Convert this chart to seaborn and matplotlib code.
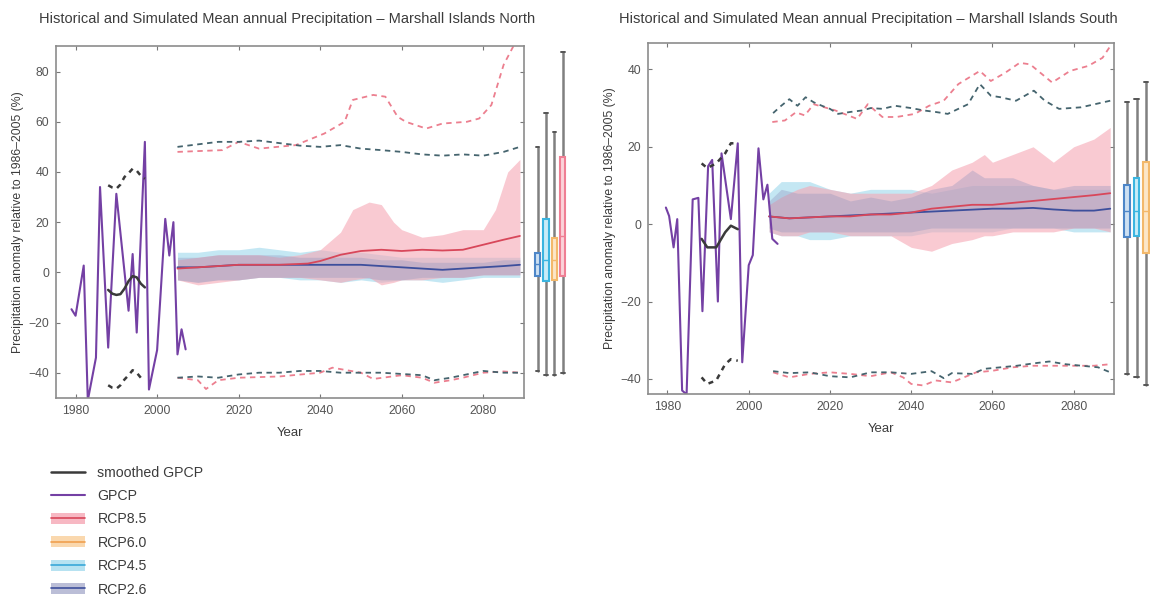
import numpy as np
import pandas as pd
import matplotlib
matplotlib.use("Agg")
import matplotlib.pyplot as plt
from matplotlib.lines import Line2D
from matplotlib.patches import Patch
import seaborn as sns

# ---------------------------------------------------------------- North data
north_gpcp_years = [1979, 1980, 1982, 1983, 1985, 1986, 1988, 1990, 1993, 1994,
                    1995, 1997, 1998, 2000, 2002, 2003, 2004, 2005, 2006, 2007]
north_gpcp = [-14.7, -17.3, 2.7, -51, -34, 34, -30, 31.3, -15.3, 7.3,
              -24, 52, -46.7, -31, 21.3, 6.7, 20, -32.7, -22.7, -30.7]
north_smooth_years = [1988, 1989, 1990, 1991, 1992, 1993, 1994, 1995, 1996, 1997]
north_smooth = [-7, -8.5, -9, -8.7, -6.5, -3.5, -1.5, -2, -4.5, -6]
north_smooth_hi = [34.7, 33.8, 33.3, 35, 38, 39.5, 41.3, 40.5, 38.5, 37.3]
north_smooth_lo = [-45, -46, -46.4, -45, -42.7, -41, -39, -40, -42, -42.7]

north_up85_years = [2005, 2016, 2020, 2025, 2034, 2041, 2046, 2048, 2053, 2056, 2059,
                    2061, 2066, 2070, 2076, 2079, 2082, 2085, 2088, 2090]
north_up85 = [48, 48.7, 52, 49.3, 50.7, 55.3, 60, 68.7, 70.7, 70, 62,
              60, 57.3, 59.3, 60, 61.3, 66.7, 82.7, 92, 95]
north_up26_years = [2005, 2010, 2015, 2020, 2025, 2030, 2035, 2040, 2045, 2050,
                    2055, 2060, 2065, 2070, 2075, 2080, 2085, 2089]
north_up26 = [50, 51, 52, 52, 52.5, 51.5, 50.5, 50, 50.7, 49.3,
              48.7, 48, 47, 46.5, 47, 46.5, 48, 50]
north_lo85_years = [2005, 2010, 2012, 2015, 2020, 2030, 2040, 2043, 2050, 2053,
                    2060, 2065, 2068, 2072, 2075, 2080, 2085, 2089]
north_lo85 = [-42, -43, -46.5, -43, -42, -41.5, -40, -38, -40, -42.5,
              -41, -42, -44, -43, -42, -40, -39.5, -40]
north_lo26_years = [2005, 2010, 2015, 2020, 2025, 2030, 2035, 2040, 2045, 2050,
                    2055, 2060, 2065, 2068, 2072, 2075, 2080, 2085, 2089]
north_lo26 = [-42, -41.5, -42, -40.7, -40, -40, -39.3, -39.3, -40, -40,
              -40, -40.5, -41, -43, -42, -41, -39.3, -40, -40]

north_band85_years = [2005, 2010, 2015, 2020, 2025, 2030, 2035, 2040, 2045, 2048, 2052,
                      2055, 2058, 2060, 2065, 2070, 2075, 2080, 2083, 2086, 2089]
north_band85_hi = [5, 6, 7, 7, 7, 6, 7, 9, 16, 25, 28, 27, 20, 17, 14, 15, 17, 17, 25, 40, 45]
north_band85_lo = [-3, -5, -4, -3, -2, -2, -2, -3, -4, -3, -2, -5, -4, -3, -3, -2, -2, -1, -1, -1, -1]
north_band45_years = [2005, 2010, 2015, 2020, 2025, 2030, 2035, 2040, 2045, 2050,
                      2055, 2060, 2065, 2070, 2075, 2080, 2085, 2089]
north_band45_hi = [8, 8, 9, 9, 10, 9, 8, 9, 8, 8, 7, 6, 6, 6, 6, 6, 6, 6]
north_band45_lo = [-3, -4, -3, -3, -2, -2, -3, -3, -4, -3, -4, -3, -3, -4, -3, -2, -2, -2]
north_band26_hi = [6, 6, 7, 7, 7, 7, 6, 6, 6, 6, 5, 5, 4, 4, 4, 4, 5, 5]
north_band26_lo = [-3, -4, -3, -3, -2, -2, -2, -2, -2, -2, -3, -3, -2, -2, -2, -1, -1, -1]
north_med85_years = [2005, 2010, 2020, 2030, 2037, 2040, 2045, 2050, 2055, 2060,
                     2065, 2070, 2075, 2080, 2085, 2089]
north_med85 = [1.5, 2, 3, 3, 3.5, 4.5, 7, 8.5, 9, 8.5, 9, 8.7, 9, 11, 13, 14.5]
north_med26_years = [2005, 2010, 2020, 2030, 2040, 2050, 2055, 2060, 2065, 2070,
                     2075, 2080, 2085, 2089]
north_med26 = [2, 2, 3, 3, 3, 3, 2.5, 2, 1.5, 1, 1.5, 2, 2.5, 3]

# ---------------------------------------------------------------- South data
south_gpcp_years = [1979.6, 1980.4, 1981.5, 1982.4, 1983.6, 1984.7, 1986.2, 1987.6,
                    1988.6, 1990, 1991, 1992.4, 1993.3, 1995.6, 1997.3, 1998.4,
                    2000, 2001, 2002.4, 2003.6, 2004.6, 2005.8, 2007.1]
south_gpcp = [4.3, 2.1, -6, 1.3, -43, -44, 6.4, 6.8,
              -22.5, 15, 16.6, -20, 18.3, 1.3, 20.9, -35.7,
              -10.6, -8, 19.6, 6.4, 10.2, -3.8, -5.1]
south_smooth_years = [1988.4, 1989.8, 1992, 1994.2, 1995.6, 1997.3]
south_smooth = [-3.8, -6, -6, -2.1, -0.4, -1.3]
south_smooth_hi = [15.7, 14.5, 15.7, 18.3, 20.9, 20.9]
south_smooth_lo = [-39.6, -41.3, -40.4, -36.2, -34.9, -35.3]

south_up85_years = [2005.8, 2008.9, 2011.6, 2013.8, 2016, 2021.3, 2026.7, 2029.3, 2032.9,
                    2036.4, 2040.9, 2044.4, 2048, 2051.6, 2056.9, 2059.6, 2063.1,
                    2066.7, 2069.3, 2074.7, 2079.1, 2083.6, 2087.1, 2089]
south_up85 = [26.4, 26.8, 28.9, 28.1, 31, 29.4, 27.2, 31, 27.7,
              27.7, 28.5, 30.6, 31.9, 36.2, 39.6, 37, 39.1,
              41.7, 41.3, 36.6, 39.6, 40.9, 43, 46]
south_up26_years = [2006, 2008, 2010, 2012, 2014, 2016, 2018, 2020, 2022, 2025, 2028,
                    2030, 2033, 2036, 2040, 2043, 2046, 2049, 2052, 2054, 2056.9,
                    2059.6, 2062, 2065.8, 2070.2, 2072.9, 2076.4, 2081.8, 2089]
south_up26 = [28.7, 30.6, 32.3, 30.6, 32.8, 31.5, 30.6, 29.8, 28.5, 29, 29.4,
              30, 29.8, 30.6, 30, 29.4, 29, 28.5, 30, 31, 36.2,
              33.2, 32.8, 31.9, 34.5, 31.9, 29.8, 30.2, 31.9]
south_lo85_years = [2006, 2010, 2015, 2020, 2025, 2030, 2035, 2038, 2040, 2043, 2046,
                    2050, 2053, 2056, 2060, 2065, 2070, 2075, 2080, 2085, 2089]
south_lo85 = [-38.3, -39.6, -38.7, -38.3, -38.7, -39.3, -38.3, -39.6, -41.3, -41.7, -40.4,
              -40.9, -39.6, -38.3, -37.9, -37, -36.6, -36.6, -36.6, -36.6, -36.2]
south_lo26_years = [2006, 2010, 2015, 2020, 2025, 2030, 2035, 2040, 2045, 2048, 2050,
                    2055, 2058, 2062, 2066, 2070, 2074, 2078, 2082, 2086, 2089]
south_lo26 = [-38, -38.5, -38.3, -39.3, -39.6, -38.3, -38.3, -38.7, -38, -39.8, -38.5,
              -38.7, -37.4, -37, -36.6, -36, -35.5, -36.2, -36.6, -37, -38.3]

south_band_years = [2005, 2008, 2012, 2015, 2020, 2025, 2030, 2035, 2040, 2045, 2050,
                    2055, 2058, 2060, 2065, 2070, 2075, 2080, 2085, 2089]
south_band85_hi = [5, 7, 9, 10, 9, 8, 8, 8, 8, 10, 14, 16, 18, 16, 18, 20, 16, 20, 22, 25]
south_band85_lo = [-2, -3, -3, -2, -2, -3, -3, -3, -6, -7, -5, -4, -3, -3, -2, -2, -2, -1, -1, -2]
south_band45_hi = [8, 11, 11, 11, 9, 8, 9, 9, 9, 8, 9, 10, 10, 10, 10, 10, 9, 9, 9, 9]
south_band45_lo = [-2, -3, -3, -4, -4, -3, -3, -3, -3, -2, -2, -2, -2, -2, -1, -1, -1, -2, -2, -2]
south_band26_hi = [6, 9, 8, 8, 8, 6, 7, 6, 7, 9, 10, 14, 12, 12, 12, 10, 9, 10, 10, 10]
south_band26_lo = [-1, -2, -2, -2, -2, -2, -2, -2, -2, -1, -1, -1, -1, -1, -1, -1, -1, -1, -1, -1]
south_med85_years = [2005, 2010, 2020, 2025, 2030, 2035, 2040, 2045, 2050, 2055,
                     2060, 2065, 2070, 2075, 2080, 2085, 2089]
south_med85 = [2, 1.5, 2, 2, 2.5, 2.5, 3, 4, 4.5, 5, 5, 5.5, 6, 6.5, 7, 7.5, 8]
south_med26_years = [2005, 2010, 2020, 2030, 2040, 2050, 2060, 2065, 2070, 2075,
                     2080, 2085, 2089]
south_med26 = [2, 1.5, 2, 2.5, 3, 3.5, 4, 4, 4.2, 3.8, 3.5, 3.5, 4]

# ------------------------------------------------- end-of-century range boxes
scenarios = ["RCP2.6", "RCP4.5", "RCP6.0", "RCP8.5"]
north_box_low = [-39.5, -41, -41, -40]
north_box_q1 = [-1.6, -3.3, -2.9, -1.6]
north_box_med = [3.3, 5, 5, 14.4]
north_box_q3 = [7.6, 21.3, 13.6, 46]
north_box_high = [50, 63.5, 56, 88]
south_box_low = [-38.8, -39.6, -41.6, -42]
south_box_q1 = [-3.4, -3.0, -7.5, -4]
south_box_med = [3.3, 3.3, 3.3, 8]
south_box_q3 = [10.2, 12.0, 16.0, 25]
south_box_high = [31.5, 32.3, 36.8, 46]

# ------------------------------------------------------------------ styling
sns.set_theme(style="white")
plt.rcParams["font.family"] = ["Liberation Sans", "DejaVu Sans"]

PURPLE = "#7440a4"
SMOOTH = "#3a3a3a"
RED = "#d8475a"
DASH_PINK = "#ec7f8f"
DASH_DARK = "#45646e"
NAVY = "#3d4f9c"
C85 = "#f6a7b5"
C60 = "#f9cf9a"
C45 = "#a5dbee"
C26 = "#8f93bd"
BOX_EDGE = {"RCP2.6": "#4d86c8", "RCP4.5": "#3bb5e0", "RCP6.0": "#f3b86a", "RCP8.5": "#ef7f94"}
BOX_FILL = {"RCP2.6": "#cde0f2", "RCP4.5": "#c9ecf8", "RCP6.0": "#fce6c8", "RCP8.5": "#fbd3da"}
SPINE = "#8c8c8c"
TXT = "#3c3c3c"

W, H = 1150, 597
fig = plt.figure(figsize=(W / 100, H / 100), dpi=100)


def px_axes(x0, y0, x1, y1):
    return fig.add_axes([x0 / W, 1 - y1 / H, (x1 - x0) / W, (y1 - y0) / H])


def line(ax, xs, ys, color, lw=1.3, dashed=False, dash=(3, 2.5)):
    df = pd.DataFrame({"year": xs, "value": ys})
    sns.lineplot(data=df, x="year", y="value", ax=ax, color=color, lw=lw,
                 sort=False, estimator=None, legend=False)
    if dashed:
        ax.lines[-1].set_dashes(dash)


def panel(ax, d, ylim, yticks, title, title_x):
    ax.fill_between(d["b45x"], d["b45lo"], d["b45hi"], color=C45, alpha=0.65, lw=0)
    ax.fill_between(d["b85x"], d["b85lo"], d["b85hi"], color=C85, alpha=0.6, lw=0)
    ax.fill_between(d["b45x"], d["b26lo"], d["b26hi"], color=C26, alpha=0.35, lw=0)
    line(ax, d["up85x"], d["up85"], DASH_PINK, 1.3, True)
    line(ax, d["up26x"], d["up26"], DASH_DARK, 1.3, True)
    line(ax, d["lo85x"], d["lo85"], DASH_PINK, 1.3, True)
    line(ax, d["lo26x"], d["lo26"], DASH_DARK, 1.3, True)
    line(ax, d["m26x"], d["m26"], NAVY, 1.3)
    line(ax, d["m85x"], d["m85"], RED, 1.3)
    line(ax, d["gx"], d["g"], PURPLE, 1.5)
    line(ax, d["sx"], d["shi"], SMOOTH, 1.8, True, (2, 2))
    line(ax, d["sx"], d["slo"], SMOOTH, 1.8, True, (2, 2))
    line(ax, d["sx"], d["s"], SMOOTH, 1.8)

    ax.set_xlim(1975.2, 2090)
    ax.set_ylim(*ylim)
    ax.set_xticks([1980, 2000, 2020, 2040, 2060, 2080])
    ax.set_yticks(yticks)
    ax.tick_params(direction="in", length=3, width=0.8, color="#777777",
                   labelsize=8.8, labelcolor="#555555", top=True, right=True,
                   bottom=True, left=True, pad=5)
    for s in ax.spines.values():
        s.set_color(SPINE)
        s.set_linewidth(1.2)
    ax.set_xlabel("Year", fontsize=9.5, color=TXT, labelpad=7)
    ax.set_ylabel("Precipitation anomaly relative to 1986\u20132005 (%)",
                  fontsize=8.8, color=TXT, labelpad=3)
    fig.text(title_x / W, 1 - 19 / H, title, ha="center", va="center",
             fontsize=10.5, color=TXT)


def boxes(ax, low, q1, med, q3, high, ylim):
    stats = []
    for i, name in enumerate(scenarios):
        stats.append(dict(label=name, whislo=low[i], q1=q1[i], med=med[i],
                          q3=q3[i], whishi=high[i]))
    bp = ax.bxp(stats, positions=[0, 1, 2, 3], widths=0.6, showfliers=False,
                patch_artist=True, manage_ticks=False)
    for i, name in enumerate(scenarios):
        bp["boxes"][i].set(facecolor=BOX_FILL[name], edgecolor=BOX_EDGE[name], lw=1.5, zorder=3)
        bp["medians"][i].set(color=BOX_EDGE[name], lw=1.0, zorder=4)
    for w in bp["whiskers"]:
        w.set(color="#808080", lw=1.8, zorder=2)
    for c in bp["caps"]:
        xm = np.mean(c.get_xdata())
        c.set(color="#555555", lw=1.4, xdata=[xm - 0.22, xm + 0.22])
    ax.set_xlim(-0.55, 3.5)
    ax.set_ylim(*ylim)
    ax.axis("off")


north = dict(gx=north_gpcp_years, g=north_gpcp, sx=north_smooth_years, s=north_smooth,
             shi=north_smooth_hi, slo=north_smooth_lo,
             up85x=north_up85_years, up85=north_up85, up26x=north_up26_years, up26=north_up26,
             lo85x=north_lo85_years, lo85=north_lo85, lo26x=north_lo26_years, lo26=north_lo26,
             b85x=north_band85_years, b85hi=north_band85_hi, b85lo=north_band85_lo,
             b45x=north_band45_years, b45hi=north_band45_hi, b45lo=north_band45_lo,
             b26hi=north_band26_hi, b26lo=north_band26_lo,
             m85x=north_med85_years, m85=north_med85, m26x=north_med26_years, m26=north_med26)
south = dict(gx=south_gpcp_years, g=south_gpcp, sx=south_smooth_years, s=south_smooth,
             shi=south_smooth_hi, slo=south_smooth_lo,
             up85x=south_up85_years, up85=south_up85, up26x=south_up26_years, up26=south_up26,
             lo85x=south_lo85_years, lo85=south_lo85, lo26x=south_lo26_years, lo26=south_lo26,
             b85x=south_band_years, b85hi=south_band85_hi, b85lo=south_band85_lo,
             b45x=south_band_years, b45hi=south_band45_hi, b45lo=south_band45_lo,
             b26hi=south_band26_hi, b26lo=south_band26_lo,
             m85x=south_med85_years, m85=south_med85, m26x=south_med26_years, m26=south_med26)

NORTH_YLIM = (-50.2, 90.2)
SOUTH_YLIM = (-43.9, 46.9)

ax_n = px_axes(56, 46, 524, 398.3)
panel(ax_n, north, NORTH_YLIM, [-40, -20, 0, 20, 40, 60, 80],
      "Historical and Simulated Mean annual Precipitation \u2013 Marshall Islands North", 287)
ax_s = px_axes(648, 42.7, 1114.3, 394)
panel(ax_s, south, SOUTH_YLIM, [-40, -20, 0, 20, 40],
      "Historical and Simulated Mean annual Precipitation \u2013 Marshall Islands South", 868)

box_n = px_axes(533, 46, 567, 398.3)
boxes(box_n, north_box_low, north_box_q1, north_box_med, north_box_q3, north_box_high, NORTH_YLIM)
box_s = px_axes(1122, 42.7, 1160, 394)
boxes(box_s, south_box_low, south_box_q1, south_box_med, south_box_q3, south_box_high, SOUTH_YLIM)

# legend
handles = [
    Line2D([], [], color=SMOOTH, lw=1.8),
    Line2D([], [], color=PURPLE, lw=1.5),
    (Patch(facecolor=C85, alpha=0.8, lw=0), Line2D([], [], color=RED, lw=1.2)),
    (Patch(facecolor=C60, alpha=0.8, lw=0), Line2D([], [], color="#f0a050", lw=1.2)),
    (Patch(facecolor=C45, alpha=0.8, lw=0), Line2D([], [], color="#3aa8d8", lw=1.2)),
    (Patch(facecolor=C26, alpha=0.6, lw=0), Line2D([], [], color=NAVY, lw=1.2)),
]
labels = ["smoothed GPCP", "GPCP", "RCP8.5", "RCP6.0", "RCP4.5", "RCP2.6"]
fig.legend(handles, labels, loc="upper left", bbox_to_anchor=(38 / W, 1 - 453 / H),
           frameon=False, fontsize=10.2, labelcolor=TXT, handlelength=2.4,
           handleheight=0.8, labelspacing=0.66, handletextpad=0.9)

fig.savefig("out.png", dpi=100)
